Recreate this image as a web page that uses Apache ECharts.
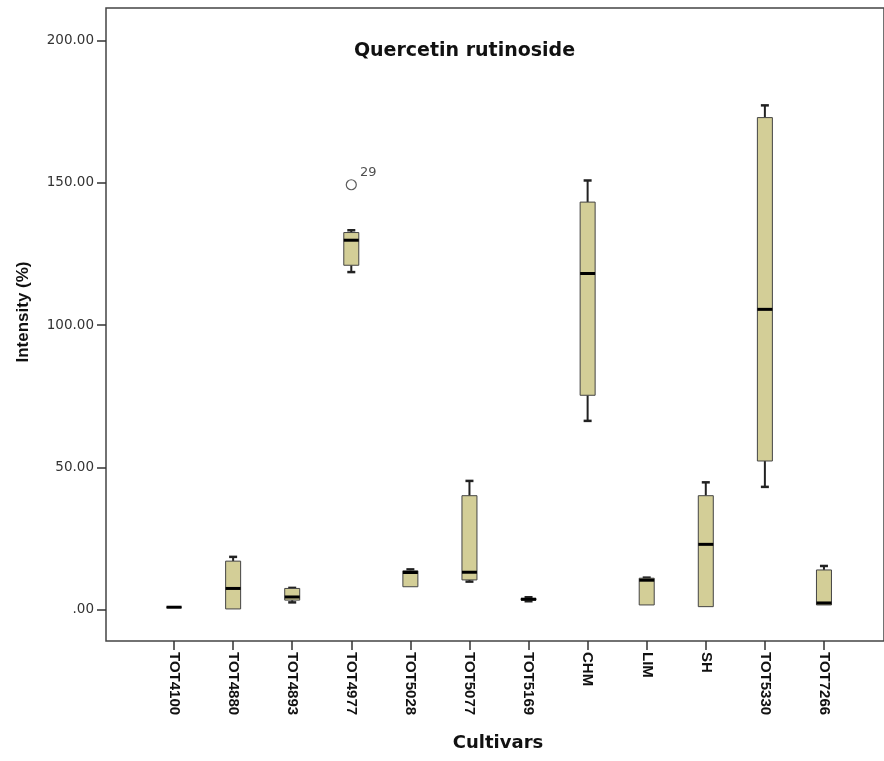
<!DOCTYPE html>
<html>
<head>
<meta charset="utf-8">
<script src="https://cdn.jsdelivr.net/npm/echarts@6/dist/echarts.min.js"></script>
<style>
html,body{margin:0;padding:0;background:#fff;}
#chart{width:884px;height:761px;}
</style>
</head>
<body>
<div id="chart"></div>
<script>
const categories = ['TOT4100','TOT4880','TOT4893','TOT4977','TOT5028','TOT5077','TOT5169','CHM','LIM','SH','TOT5330','TOT7266'];
const whiskerLow  = [0.8, 0.2, 2.5, 118.6, 8.0, 9.8, 2.9, 66.3, 1.6, 1.0, 43.1, 1.6];
const q1          = [0.8, 0.2, 3.3, 121.0, 8.0, 10.4, 3.3, 75.3, 1.6, 1.0, 52.2, 1.6];
const median      = [0.8, 7.4, 4.4, 129.8, 13.0, 13.1, 3.6, 118.1, 10.3, 22.9, 105.5, 2.3];
const q3          = [0.8, 17.0, 7.4, 132.5, 13.6, 40.0, 3.9, 143.2, 11.0, 40.0, 172.9, 13.9];
const whiskerHigh = [0.8, 18.5, 7.6, 133.3, 14.1, 45.2, 4.3, 150.8, 11.2, 44.7, 177.2, 15.3];
const outliers = [{cat: 'TOT4977', value: 149.3, label: '29'}];
const yTickMin = 0, yTickMax = 200, yTickStep = 50;

const boxData = categories.map((c, i) => [i, whiskerLow[i], q1[i], median[i], q3[i], whiskerHigh[i]]);

// pixel layout: value 200 at y=40.5, value 0 at y=609.5, plot bottom at y=641
const pxPerUnit = (609.5 - 40.5) / (yTickMax - yTickMin);
const dataMin = yTickMin - (641 - 609.5) / pxPerUnit;

const chart = echarts.init(document.getElementById('chart'));
const boxFill = '#d3ce97';
const lineCol = '#222';

function renderBox(params, api) {
  const idx = api.value(0);
  const x = api.coord([idx, 0])[0];
  const yLow = api.coord([idx, api.value(1)])[1];
  const yQ1 = api.coord([idx, api.value(2)])[1];
  const yMed = api.coord([idx, api.value(3)])[1];
  const yQ3 = api.coord([idx, api.value(4)])[1];
  const yHigh = api.coord([idx, api.value(5)])[1];
  const hw = 7.5, cw = 4;
  const children = [];
  if (yHigh < yQ3 - 0.5) {
    children.push({type:'line', shape:{x1:x, y1:yQ3, x2:x, y2:yHigh}, style:{stroke:lineCol, lineWidth:2}});
    children.push({type:'line', shape:{x1:x-cw, y1:yHigh, x2:x+cw, y2:yHigh}, style:{stroke:lineCol, lineWidth:2.5}});
  }
  if (yLow > yQ1 + 0.5) {
    children.push({type:'line', shape:{x1:x, y1:yQ1, x2:x, y2:yLow}, style:{stroke:lineCol, lineWidth:2}});
    children.push({type:'line', shape:{x1:x-cw, y1:yLow, x2:x+cw, y2:yLow}, style:{stroke:lineCol, lineWidth:2.5}});
  }
  children.push({type:'rect', shape:{x:x-hw, y:yQ3, width:hw*2, height:Math.max(yQ1-yQ3, 0)},
    style:{fill:boxFill, stroke:'#444', lineWidth:1}});
  children.push({type:'line', shape:{x1:x-hw, y1:yMed, x2:x+hw, y2:yMed}, style:{stroke:'#000', lineWidth:3}});
  return {type:'group', children: children};
}

chart.setOption({
  animation: false,
  backgroundColor: '#fff',
  grid: [
    {left:106, top:8, width:800, bottom:120, show:true, borderColor:'#444', borderWidth:1.5, backgroundColor:'#fff'},
    {left:144.5, width:709, top:40.5, bottom:120},
    {left:106, width:700, top:40.5, bottom:151.5}
  ],
  xAxis: [
    {gridIndex:0, type:'value', show:false, min:0, max:1},
    {gridIndex:1, type:'category', data:categories, position:'bottom',
     axisLine:{show:false, onZero:false},
     axisTick:{show:true, alignWithLabel:true, length:9, lineStyle:{color:'#333', width:1.5}},
     axisLabel:{rotate:-90, margin:11, fontFamily:'Liberation Sans', fontWeight:'bold', fontSize:15, color:'#111'}},
    {gridIndex:2, type:'value', show:false, min:0, max:1}
  ],
  yAxis: [
    {gridIndex:0, type:'value', show:false, min:0, max:1},
    {gridIndex:1, type:'value', show:false, min:dataMin, max:yTickMax},
    {gridIndex:2, type:'value', min:yTickMin, max:yTickMax, interval:yTickStep,
     axisLine:{show:false, onZero:false},
     axisTick:{show:true, length:9, lineStyle:{color:'#333', width:1.5}},
     splitLine:{show:false},
     axisLabel:{margin:12, fontFamily:'DejaVu Sans', fontSize:13.5, color:'#333',
       formatter: v => v === 0 ? '.00' : v.toFixed(2)}}
  ],
  series: [
    {type:'custom', xAxisIndex:1, yAxisIndex:1, data:boxData, renderItem:renderBox,
     encode:{x:0, y:[1,2,3,4,5]}, clip:false},
    {type:'scatter', xAxisIndex:1, yAxisIndex:1, symbol:'circle', symbolSize:10,
     itemStyle:{color:'#fff', borderColor:'#333', borderWidth:1.2},
     data: outliers.map(o => ({value:[o.cat, o.value], label:o.label})),
     label:{show:true, position:'right', distance:4, offset:[-1,-12],
       formatter: p => p.data.label, fontFamily:'DejaVu Sans', fontSize:13, color:'#222'}}
  ],
  graphic: [
    {type:'text', x:464.5, y:51, style:{text:'Quercetin rutinoside', textAlign:'center', textVerticalAlign:'middle',
      font:'bold 19px "DejaVu Sans"', fill:'#111'}},
    {type:'text', x:498, y:743, style:{text:'Cultivars', textAlign:'center', textVerticalAlign:'middle',
      font:'bold 18px "DejaVu Sans"', fill:'#111'}},
    {type:'text', x:23, y:312, rotation:Math.PI/2, style:{text:'Intensity (%)', textAlign:'center', textVerticalAlign:'middle',
      font:'bold 17px "Liberation Sans"', fill:'#111'}}
  ]
});
</script>
</body>
</html>
